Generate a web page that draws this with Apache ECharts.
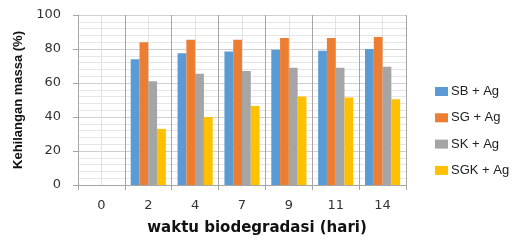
<!DOCTYPE html>
<html>
<head>
<meta charset="utf-8">
<script src="https://cdn.jsdelivr.net/npm/echarts@6/dist/echarts.min.js"></script>
<style>
  html, body { margin: 0; padding: 0; background: #fff; }
  #chart { width: 519px; height: 241px; }
</style>
</head>
<body>
<div id="chart"></div>
<script>
// hari biodegradasi
const days = ['0', '2', '4', '7', '9', '11', '14'];
// kehilangan massa (%)
const sbAg = [0, 74, 77.5, 78.5, 79.5, 79, 80];
const sgAg = [0, 84, 85.5, 85.5, 86.5, 86.5, 87];
const skAg = [0, 61, 65.5, 67, 69, 69, 69.5];
const sgkAg = [0, 33, 40, 46.5, 52, 51.5, 50.5];
const yTicks = [0, 20, 40, 60, 80, 100];

const font = 'Liberation Sans';
const wide = 'DejaVu Sans';
const chart = echarts.init(document.getElementById('chart'));

function bar(name, data, color) {
  return {
    name: name,
    type: 'bar',
    data: data,
    xAxisIndex: 0,
    itemStyle: { color: color },
    barGap: '0%',
    barCategoryGap: '25%'
  };
}

chart.setOption({
  animation: false,
  grid: { left: 78, right: 113, top: 15, bottom: 48 },
  legend: {
    orient: 'vertical',
    left: 430,
    top: 80,
    itemWidth: 13,
    itemHeight: 9,
    itemGap: 13.3,
    icon: 'rect',
    textStyle: { fontFamily: font, fontSize: 13, color: '#222', padding: [0, 0, 0, -2] },
    data: ['SB + Ag', 'SG + Ag', 'SK + Ag', 'SGK + Ag']
  },
  xAxis: [
    {
      type: 'category',
      data: days,
      z: 3,
      axisLine: { lineStyle: { color: '#a6a6a6' } },
      axisTick: { show: true, length: 5, lineStyle: { color: '#a6a6a6' } },
      axisLabel: { fontFamily: wide, fontSize: 13, color: '#333', margin: 14 },
      splitLine: { show: true, lineStyle: { color: '#a6a6a6', width: 1 } },
      name: 'waktu biodegradasi (hari)',
      nameLocation: 'middle',
      nameGap: 36,
      nameTextStyle: { fontFamily: wide, fontSize: 15, fontWeight: 'bold', color: '#111', padding: [0, 0, 0, 30] }
    },
    {
      // garis bantu tipis di tengah kategori
      type: 'value',
      min: 0,
      max: 14,
      interval: 1,
      position: 'bottom',
      axisLine: { show: false },
      axisTick: { show: false },
      axisLabel: { show: false },
      splitLine: { show: true, lineStyle: { color: '#e2e2e2', width: 1 } }
    }
  ],
  yAxis: {
    type: 'value',
    min: yTicks[0],
    max: yTicks[yTicks.length - 1],
    interval: 20,
    axisLine: { show: true, lineStyle: { color: '#a6a6a6' } },
    axisTick: { show: true, length: 5, lineStyle: { color: '#a6a6a6' } },
    axisLabel: { fontFamily: wide, fontSize: 13, color: '#333', margin: 17 },
    splitLine: { show: true, lineStyle: { color: '#cfcfcf' } },
    minorTick: { show: false, splitNumber: 5 },
    minorSplitLine: { show: true, lineStyle: { color: '#e6e6e6' } },
    name: 'Kehilangan massa (%)',
    nameLocation: 'middle',
    nameGap: 53,
    nameTextStyle: { fontFamily: font, fontSize: 13, fontWeight: 'bold', color: '#111' }
  },
  series: [
    bar('SB + Ag', sbAg, '#5b9bd5'),
    bar('SG + Ag', sgAg, '#ed7d31'),
    bar('SK + Ag', skAg, '#a5a5a5'),
    bar('SGK + Ag', sgkAg, '#ffc000')
  ]
});
</script>
</body>
</html>
